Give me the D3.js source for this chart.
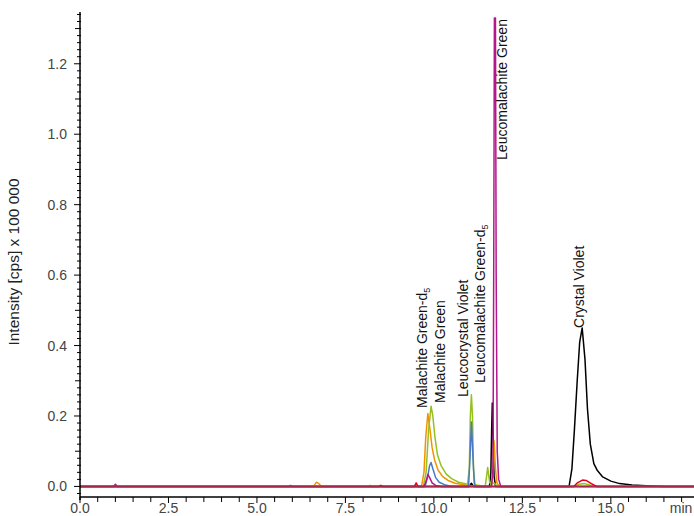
<!DOCTYPE html>
<html><head><meta charset="utf-8">
<script src="https://cdn.jsdelivr.net/npm/d3@7"></script>
<style>body{margin:0;background:#fff}svg{display:block}text{font-family:"Liberation Sans",Arial,sans-serif}</style>
</head><body>
<svg id="c" width="694" height="516"></svg>
<script>
// ---- data (time in min, intensity in cps x 100 000) ----
const xTicks = [0, 2.5, 5, 7.5, 10, 12.5, 15];
const yTicks = [0, 0.2, 0.4, 0.6, 0.8, 1.0, 1.2];

const black = [[0,0],[11.0,0],[11.06,0.009],[11.12,0],[11.57,0],[11.61,0.04],[11.63,0.15],[11.65,0.237],[11.67,0.16],[11.7,0.03],[11.74,0],[13.82,0],[13.9,0.05],[13.97,0.16],[14.05,0.3],[14.12,0.41],[14.19,0.45],[14.27,0.36],[14.34,0.22],[14.42,0.12],[14.52,0.065],[14.62,0.045],[14.77,0.027],[15.0,0.015],[15.25,0.008],[15.6,0.004],[16.0,0.002],[16.5,0],[17.35,0]];
const orange = [[0,0],[6.6,0],[6.68,0.012],[6.75,0.008],[6.82,0],[9.65,0],[9.72,0.04],[9.77,0.14],[9.83,0.207],[9.88,0.17],[9.95,0.11],[10.02,0.075],[10.12,0.046],[10.25,0.028],[10.4,0.017],[10.6,0.009],[10.9,0.004],[11.2,0],[11.62,0],[11.66,0.03],[11.7,0.13],[11.74,0.05],[11.78,0.01],[11.85,0],[17.35,0]];
const green = [[0,0],[8.15,0],[8.2,0.003],[8.25,0],[9.7,0],[9.78,0.04],[9.85,0.16],[9.92,0.228],[9.97,0.2],[10.03,0.14],[10.1,0.09],[10.2,0.06],[10.35,0.035],[10.5,0.022],[10.7,0.012],[10.95,0.006],[11.0,0.05],[11.03,0.2],[11.06,0.26],[11.09,0.2],[11.12,0.05],[11.16,0.005],[11.45,0],[11.49,0.03],[11.52,0.054],[11.55,0.03],[11.58,0.01],[11.7,0.01],[11.8,0],[13.95,0],[14.1,0.006],[14.25,0.008],[14.4,0.004],[14.6,0],[17.35,0]];
const blue = [[0,0],[5.9,0],[5.95,0.003],[6.0,0],[9.75,0],[9.82,0.025],[9.88,0.06],[9.92,0.068],[9.97,0.05],[10.05,0.025],[10.15,0.012],[10.3,0.005],[10.5,0],[10.98,0],[11.02,0.08],[11.06,0.183],[11.1,0.09],[11.14,0.01],[11.18,0],[17.35,0]];
const magenta = [[0,0],[0.95,0],[1.0,0.006],[1.05,0],[9.72,0],[9.78,0.015],[9.83,0.034],[9.88,0.025],[9.95,0.01],[10.05,0.003],[10.2,0],[11.63,0],[11.67,0.05],[11.69,0.6],[11.71,1.33],[11.74,1.33],[11.76,0.6],[11.79,0.1],[11.83,0.02],[11.89,0],[17.35,0]];
const red = [[0,0],[8.45,0],[8.5,0.003],[8.55,0],[9.45,0],[9.5,0.01],[9.55,0],[13.95,0],[14.05,0.01],[14.2,0.018],[14.3,0.017],[14.45,0.008],[14.6,0],[17.35,0]];
const maroon = [[0,0],[17.35,0]];

const seriesNames = ["black","orange","green","blue","magenta","red","maroon"];
const seriesData = [black, orange, green, blue, magenta, red, maroon];
const seriesColors = ["#000000","#f39200","#95c11f","#4a78c2","#b4178c","#e3001b","#a6294b"];

const peakLabels = ["Malachite Green-d", "Malachite Green", "Leucocrystal Violet", "Leucomalachite Green-d", "Leucomalachite Green", "Crystal Violet"];
const peakSub = ["5", "", "", "5", "", ""];
// label anchor (time, intensity) at the lower end of each rotated label
const labelTimes = [9.80, 10.31, 10.96, 11.44, 12.07, 14.23];
const labelLevels = [0.223, 0.237, 0.254, 0.294, 0.927, 0.45];

// ---- drawing ----
const svg = d3.select("#c");
const x = d3.scaleLinear().domain([0, 17.35]).range([80, 694]);
const y = d3.scaleLinear().domain([-0.03, 1.347]).range([497, 12]);

const line = d3.line().x(d => x(d[0])).y(d => y(d[1]));
seriesData.forEach((s, i) => {
  svg.append("path").datum(s).attr("d", line)
    .attr("fill", "none").attr("stroke", seriesColors[i])
    .attr("stroke-width", 1.5).attr("stroke-linejoin", "round");
});

// x axis
const xAxisY = 497;
svg.append("line").attr("x1", 80).attr("x2", 694).attr("y1", xAxisY).attr("y2", xAxisY).attr("stroke", "#000").attr("stroke-width", 1.5);
const xMinor = d3.range(0, 17.01, 0.5);
svg.selectAll(".xt").data(xMinor).enter().append("line")
  .attr("x1", d => x(d)).attr("x2", d => x(d))
  .attr("y1", xAxisY).attr("y2", d => xAxisY + (Math.abs(d / 2.5 - Math.round(d / 2.5)) < 1e-6 ? 6 : 5))
  .attr("stroke", "#000").attr("stroke-width", 1);
svg.selectAll(".xl").data(xTicks).enter().append("text")
  .attr("x", d => x(d)).attr("y", 513).attr("text-anchor", "middle")
  .attr("font-size", 14).attr("fill", "#444").text(d => d.toFixed(1));
svg.append("text").attr("x", 681).attr("y", 513).attr("text-anchor", "middle")
  .attr("font-size", 14).attr("fill", "#444").text("min");

// y axis
svg.append("line").attr("x1", 80).attr("x2", 80).attr("y1", 12).attr("y2", 500).attr("stroke", "#000").attr("stroke-width", 1.5);
const yMinor = d3.range(-0.02, 1.341, 0.02);
svg.selectAll(".yt").data(yMinor).enter().append("line")
  .attr("x1", d => {
    const r = Math.round(d * 100);
    return 80 - (r % 20 === 0 ? 6 : (r % 10 === 0 ? 5 : 3));
  })
  .attr("x2", 81).attr("y1", d => y(d)).attr("y2", d => y(d))
  .attr("stroke", "#000").attr("stroke-width", 1);
svg.selectAll(".yl").data(yTicks).enter().append("text")
  .attr("x", 67).attr("y", d => y(d) + 5).attr("text-anchor", "end")
  .attr("font-size", 14).attr("fill", "#444").text(d => d.toFixed(1));
svg.append("text").attr("transform", "translate(19,262) rotate(-90)")
  .attr("text-anchor", "middle").attr("font-size", 15.5).attr("fill", "#222")
  .text("Intensity [cps] x 100 000");

// peak labels
peakLabels.forEach((lab, i) => {
  const px = x(labelTimes[i]);
  const py = y(labelLevels[i]);
  const t = svg.append("text").attr("transform", `translate(${px},${py}) rotate(-90)`)
    .attr("font-size", 14).attr("fill", "#111").text(lab);
  if (peakSub[i]) t.append("tspan").attr("font-size", 9).attr("dy", 3).text(peakSub[i]);
});
</script>
</body></html>
